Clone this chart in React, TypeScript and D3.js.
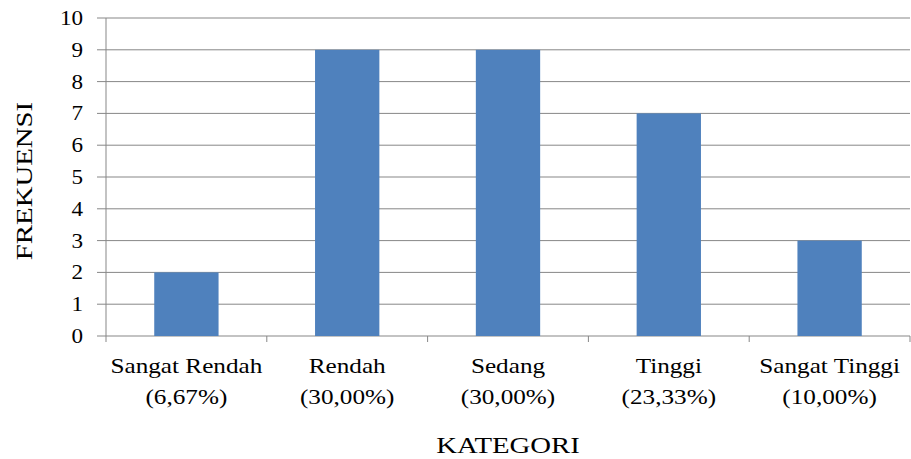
import React from "react";
import * as d3 from "d3";

const categories = ["Sangat Rendah", "Rendah", "Sedang", "Tinggi", "Sangat Tinggi"];
const percentLabels = ["(6,67%)", "(30,00%)", "(30,00%)", "(23,33%)", "(10,00%)"];
const frequencies = [2, 9, 9, 7, 3];
const yTicks = [0, 1, 2, 3, 4, 5, 6, 7, 8, 9, 10];

const W = 911;
const H = 459;
const left = 106;
const right = 910;
const top = 18;
const bottom = 336;
const FONT = "'Liberation Serif', 'Times New Roman', serif";
const GRID = "#878787";
const BAR = "#4F81BD";

export default function App() {
  const x = d3.scaleBand<string>().domain(categories).range([left, right]).paddingInner(0.6).paddingOuter(0.3);
  const xEdges = d3.scaleBand<string>().domain(categories).range([left, right]).padding(0);
  const y = d3.scaleLinear().domain([0, 10]).range([bottom, top]);

  return (
    <svg width={W} height={H} style={{ position: "absolute", left: 0, top: 0, background: "#fff" }}>
      <rect x={0} y={0} width={W} height={H} fill="#fff" />
      {yTicks.map((t) => (
        <g key={t}>
          <line x1={97} x2={right} y1={y(t)} y2={y(t)} stroke={GRID} strokeWidth={1} />
          <text
            transform={`translate(83,${y(t) + 7}) scale(1.1,1)`}
            textAnchor="end"
            fontFamily={FONT}
            fontSize={21}
            fill="#000"
          >
            {t}
          </text>
        </g>
      ))}
      <line x1={left} x2={left} y1={top} y2={bottom + 6} stroke={GRID} strokeWidth={1} />
      {categories.map((c) => (
        <line key={"tk" + c} x1={(xEdges(c) as number) + xEdges.bandwidth()} x2={(xEdges(c) as number) + xEdges.bandwidth()} y1={bottom} y2={bottom + 6} stroke={GRID} strokeWidth={1} />
      ))}
      {categories.map((c, i) => (
        <rect
          key={"b" + c}
          x={x(c)}
          y={y(frequencies[i])}
          width={x.bandwidth()}
          height={y(0) - y(frequencies[i])}
          fill={BAR}
        />
      ))}
      {categories.map((c, i) => {
        const cx = (xEdges(c) as number) + xEdges.bandwidth() / 2;
        return (
          <g key={"l" + c}>
            <text transform={`translate(${cx},373) scale(1.2,1)`} textAnchor="middle" fontFamily={FONT} fontSize={21} fill="#000">
              {c}
            </text>
            <text transform={`translate(${cx},404) scale(1.2,1)`} textAnchor="middle" fontFamily={FONT} fontSize={21} fill="#000">
              {percentLabels[i]}
            </text>
          </g>
        );
      })}
      <text transform={`translate(508,453) scale(1.25,1)`} textAnchor="middle" fontFamily={FONT} fontSize={23} fill="#000">
        KATEGORI
      </text>
      <text transform={`translate(32,181) rotate(-90) scale(1.2,1)`} textAnchor="middle" fontFamily={FONT} fontSize={24} fill="#000">
        FREKUENSI
      </text>
    </svg>
  );
}
